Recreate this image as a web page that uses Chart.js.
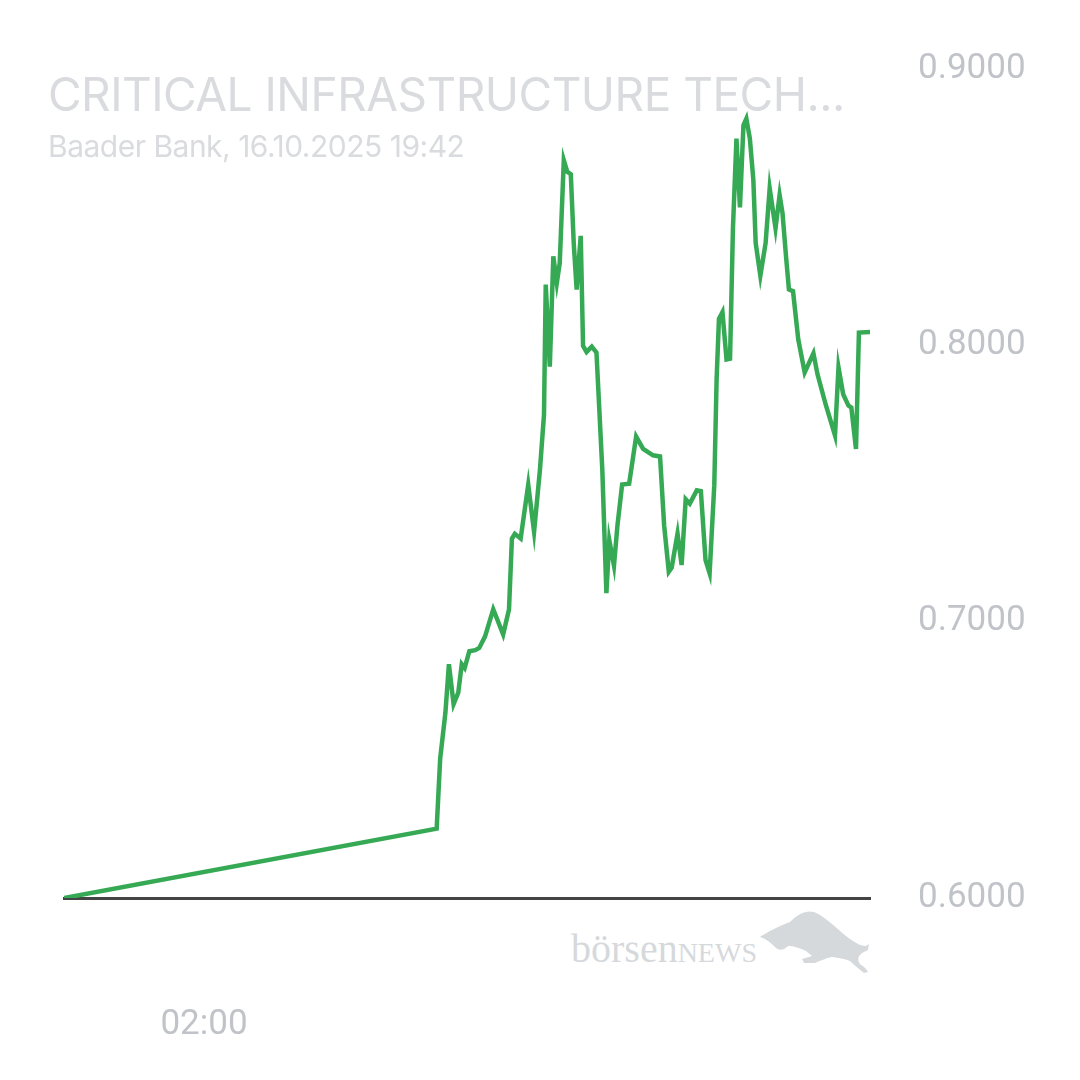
<!DOCTYPE html>
<html lang="de">
<head>
<meta charset="UTF-8">
<title>CRITICAL INFRASTRUCTURE TECH</title>
<script src="https://cdn.jsdelivr.net/npm/chart.js@4.4.0/dist/chart.umd.min.js"></script>
<style>
  html, body { margin: 0; padding: 0; background: #fff; }
  #wrap { position: relative; width: 1080px; height: 1080px; overflow: hidden; }
  #mark { position: absolute; left: 0; top: 0; }
  #chart { position: absolute; left: 0; top: 0; }
  .head { position: absolute; left: 48px; font-family: Inter, "Noto Sans", sans-serif; color: #d9dbde; white-space: nowrap; }
  #title { top: 71px; font-size: 46px; line-height: 46px; letter-spacing: -0.5px; }
  #sub { top: 131px; font-size: 30px; line-height: 30px; letter-spacing: -0.5px; }
</style>
</head>
<body>
<div id="wrap">
  <svg id="mark" width="1080" height="1080">
    <text x="571" y="962" fill="#d6d9dc" font-family="'Liberation Serif', 'DejaVu Serif', serif" font-size="40">börsen<tspan font-size="28">NEWS</tspan></text>
    <path fill="#d6d9dc" d="M760 937 C770 930 780 926 790 922 C798 914 806 910 814 912 C824 916 834 926 846 936 C854 942 860 946 866 946 L869 944 L868 950 L862 953 C858 956 857 960 860 964 C864 967 867 969 868 972 L864 973 C859 969 854 965 850 961 C846 959 840 958 832 957 C826 958 820 961 815 963 L804 963 L802 959 L812 956 L806 951 C800 948 794 946 788 946 C784 950 780 951 776 948 C772 944 768 940 760 937 Z"/>
  </svg>
  <canvas id="chart" width="1080" height="1080"></canvas>
  <div id="title" class="head">CRITICAL INFRASTRUCTURE TECH...</div>
  <div id="sub" class="head">Baader Bank, 16.10.2025 19:42</div>
</div>

<script>
// minutes after 00:00 on 16.10.2025 (first point = previous evening)
var minutes = [-120, 519, 525, 534, 540, 548, 556, 562, 567, 575,
  585, 592, 602, 616, 633, 643, 648, 653, 663, 676,
  686, 696, 703, 706, 713, 719, 725, 730, 737, 743,
  749, 754, 759, 766, 770, 776, 785, 793, 803, 810,
  815, 823, 829, 837, 849, 861, 873, 890, 902, 909,
  917, 922, 932, 939, 946, 953, 965, 972, 980, 987,
  995, 999, 1003, 1009, 1016, 1022, 1027, 1033, 1039, 1045,
  1050, 1056, 1062, 1066, 1074, 1083, 1090, 1100, 1107, 1112,
  1118, 1123, 1130, 1139, 1150, 1165, 1172, 1186, 1202, 1208,
  1216, 1225, 1230, 1238, 1243, 1262];

var prices = [0.6000, 0.6251, 0.6504, 0.6671, 0.6846, 0.6702, 0.6743, 0.6846, 0.6832, 0.6893,
  0.6897, 0.6905, 0.6947, 0.7045, 0.6954, 0.7044, 0.7300, 0.7318, 0.7301, 0.7496,
  0.7325, 0.7548, 0.7748, 0.8220, 0.7923, 0.8322, 0.8226, 0.8298, 0.8670, 0.8628,
  0.8619, 0.8370, 0.8202, 0.8396, 0.7998, 0.7976, 0.7995, 0.7974, 0.7550, 0.7103,
  0.7295, 0.7203, 0.7349, 0.7496, 0.7499, 0.7670, 0.7625, 0.7602, 0.7598, 0.7349,
  0.7181, 0.7196, 0.7319, 0.7205, 0.7443, 0.7427, 0.7475, 0.7472, 0.7223, 0.7175,
  0.7494, 0.7877, 0.8096, 0.8120, 0.7949, 0.7952, 0.8424, 0.8748, 0.8499, 0.8796,
  0.8820, 0.8748, 0.8598, 0.8370, 0.8252, 0.8370, 0.8568, 0.8424, 0.8544, 0.8478,
  0.8322, 0.8202, 0.8196, 0.8021, 0.7902, 0.7971, 0.7895, 0.7786, 0.7674, 0.7920,
  0.7823, 0.7782, 0.7775, 0.7625, 0.8046, 0.8048];

var xTicks = [120];                       // 02:00
var yTicks = [0.6, 0.7, 0.8, 0.9];

function hhmm(m) {
  var h = Math.floor(((m % 1440) + 1440) % 1440 / 60), mm = ((m % 60) + 60) % 60;
  return String(h).padStart(2, '0') + ':' + String(mm).padStart(2, '0');
}

var points = minutes.map(function (m, i) { return { x: m, y: prices[i] }; });
var tickFont = { family: 'Roboto', size: 35 };

var ctx = document.getElementById('chart').getContext('2d');
var chart = new Chart(ctx, {
  type: 'line',
  data: {
    datasets: [{
      data: points,
      borderColor: '#36a955',
      borderWidth: 4.5,
      pointRadius: 0,
      tension: 0,
      fill: false
    }]
  },
  options: {
    responsive: false,
    animation: false,
    devicePixelRatio: 1,
    layout: { padding: { left: 64, top: 65, right: 0, bottom: 0 } },
    plugins: { legend: { display: false }, tooltip: { enabled: false } },
    scales: {
      x: {
        type: 'linear',
        min: -120,
        max: 1262,
        grid: { display: false, drawTicks: false },
        border: { display: true, color: '#444444', width: 3 },
        afterBuildTicks: function (s) { s.ticks = xTicks.map(function (v) { return { value: v }; }); },
        afterFit: function (s) { s.height = 182; },
        ticks: {
          padding: 106,
          maxRotation: 0,
          color: '#c0c3c8',
          font: tickFont,
          callback: function (v) { return hhmm(v); }
        }
      },
      y: {
        position: 'right',
        min: 0.6,
        max: 0.9,
        grid: { display: false, drawTicks: false },
        border: { display: false },
        afterBuildTicks: function (s) { s.ticks = yTicks.map(function (v) { return { value: v }; }); },
        afterFit: function (s) { s.width = 210; },
        ticks: {
          padding: 48,
          color: '#c0c3c8',
          font: tickFont,
          callback: function (v) { return v.toFixed(4); }
        }
      }
    }
  }
});
</script>
</body>
</html>
